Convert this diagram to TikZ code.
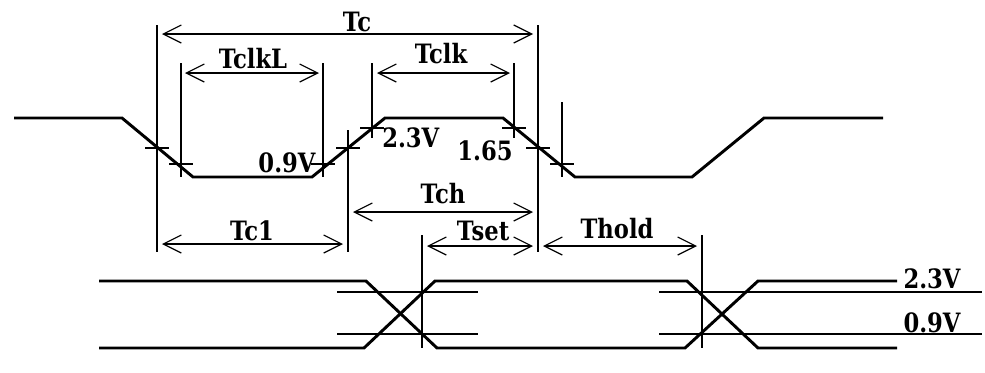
\documentclass[tikz,border=0pt]{standalone}
\usepackage{fontspec}
\setmainfont{Liberation Serif}
\newfontfamily\lblfont[FakeStretch=0.85]{DejaVu Serif}
\usetikzlibrary{arrows.meta}
\begin{document}
\begin{tikzpicture}[x=0.75pt,y=-0.75pt,
  wave/.style={line width=2.2pt, line join=miter},
  thinline/.style={line width=0.9pt},
  dim/.style={thinline,{Straight Barb[length=13.5pt,width=13.5pt]}-{Straight Barb[length=13.5pt,width=13.5pt]}},
  lbl/.style={font=\lblfont\fontsize{20}{24}\selectfont\bfseries, inner sep=0pt, anchor=base}]
\useasboundingbox (0,0) rectangle (985,372);

% clock waveform
\draw[wave] (14,118) -- (122,118) -- (193,177) -- (312,177) -- (385,118)
  -- (503,118) -- (575,177) -- (692,177) -- (764,118) -- (883,118);

% vertical reference lines
\draw[thinline] (157,25) -- (157,252);
\draw[thinline] (181,63) -- (181,177);
\draw[thinline] (323,63) -- (323,177);
\draw[thinline] (348,130) -- (348,252);
\draw[thinline] (372,63) -- (372,138);
\draw[thinline] (514,63) -- (514,138);
\draw[thinline] (538,25) -- (538,252);
\draw[thinline] (562,102) -- (562,177);
\draw[thinline] (422,235) -- (422,348);
\draw[thinline] (702,235) -- (702,348);

% crossing ticks
\foreach \px/\py in {157/148,181/164,323/164,348/148,372/128,514/128,538/148,562/164}
  \draw[thinline] (\px-12,\py) -- (\px+12,\py);

% dimension arrows
\draw[dim] (162,34) -- (533,34);
\draw[dim] (185,73) -- (319,73);
\draw[dim] (377,73) -- (510,73);
\draw[dim] (353,212) -- (533,212);
\draw[dim] (162,244) -- (343,244);
\draw[dim] (427,246) -- (533,246);
\draw[dim] (543,246) -- (697,246);

% labels
\node[lbl] (tc) at (357,31) {Tc};
\node[lbl] (tclkl) at (253,68) {TclkL};
\node[lbl] (tclk) at (441,63) {Tclk};
\node[lbl, anchor=base west] (v23a) at (382,147) {2.3V};
\node[lbl] (v165) at (485,160) {1.65};
\node[lbl] (v09a) at (287,172) {0.9V};
\node[lbl] (tch) at (443,203) {Tch};
\node[lbl] (tc1) at (252,240) {Tc1};
\node[lbl] (tset) at (483,240) {Tset};
\node[lbl] (thold) at (617,238) {Thold};
\node[lbl] (v23b) at (932,288) {2.3V};
\node[lbl] (v09b) at (932,332) {0.9V};

% data waveform
\draw[wave] (99,281) -- (366,281) -- (437,348) -- (685,348) -- (758,281) -- (897,281);
\draw[wave] (99,348) -- (364,348) -- (435,281) -- (687,281) -- (758,348) -- (897,348);

% threshold lines
\draw[thinline] (337,292) -- (478,292);
\draw[thinline] (337,334) -- (478,334);
\draw[thinline] (659,292) -- (982,292);
\draw[thinline] (659,334) -- (982,334);
\end{tikzpicture}
\end{document}
